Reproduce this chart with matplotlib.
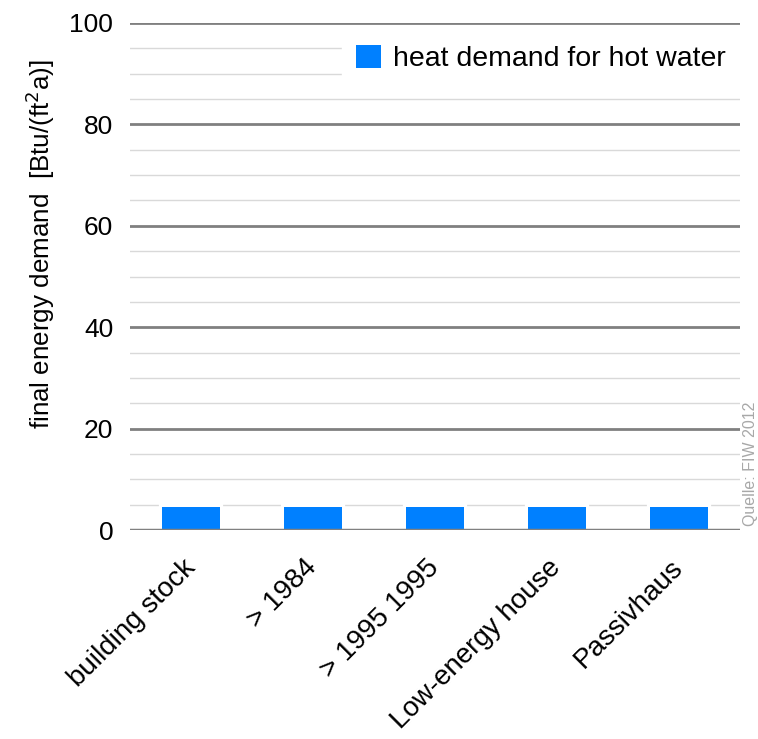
import matplotlib
matplotlib.use("Agg")
import matplotlib.pyplot as plt
import matplotlib.transforms as mtransforms
import numpy as np

categories = ["building stock", "> 1984", "> 1995 1995", "Low-energy house", "Passivhaus"]
hot_water = [4.5, 4.5, 4.5, 4.5, 4.5]
series_label = "heat demand for hot water"
y_major = [0, 20, 40, 60, 80, 100]

plt.rcParams['font.family'] = ['Liberation Sans', 'DejaVu Sans']

fig = plt.figure(figsize=(7.58, 7.39), dpi=100)
ax = fig.add_axes([130/758, 1-530/739, 610/758, 507/739])

x = np.arange(len(categories))
ax.set_xlim(-0.5, len(categories)-0.5)
ax.set_ylim(0, 100)

for s in ax.spines.values():
    s.set_visible(False)

# grid
for v in np.arange(5, 100, 5):
    if v % 20 == 0:
        continue
    ax.axhline(v, color='#d9d9d9', lw=1.0, zorder=1)
for v in y_major[1:]:
    ax.axhline(v, color='#808080', lw=2.0, zorder=1)
ax.axhline(0, color='#808080', lw=2.5, zorder=5)

blue = '#0080ff'
ax.bar(x, hot_water, width=0.47, color='white', edgecolor='white', lw=4.5, zorder=2)
bars = ax.bar(x, hot_water, width=0.47, color=blue, zorder=3, label=series_label)

ax.set_yticks(y_major)
ax.set_yticklabels([str(v) for v in y_major], fontsize=19)
ax.tick_params(axis='y', length=0, pad=12)
ax.set_xticks(x)
ax.set_xticklabels(categories, fontsize=20, rotation=45, ha='right', va='top', rotation_mode='anchor')
ax.tick_params(axis='x', length=0, pad=14)
offset = mtransforms.ScaledTranslation(-9/100, -5/100, fig.dpi_scale_trans)
for lbl in ax.get_xticklabels():
    lbl.set_transform(lbl.get_transform() + offset)

fig.text(40/758, 1-244/739, "final energy demand  [Btu/(ft$^2$a)]", fontsize=18.7,
         rotation=90, ha='center', va='center')

leg = ax.legend(loc='upper right', fontsize=20.5, frameon=True, fancybox=False, framealpha=1,
                edgecolor='white', handlelength=0.88, handleheight=0.88, handletextpad=0.42,
                borderaxespad=0.0, bbox_to_anchor=(1.0, 0.985), borderpad=0.5)
leg.set_zorder(4)

fig.text(750/758, 1-464/739, "Quelle: FIW 2012", rotation=90, fontsize=11.5, color='#a8a8a8',
         ha='center', va='center')

fig.savefig("out.png", dpi=100)
